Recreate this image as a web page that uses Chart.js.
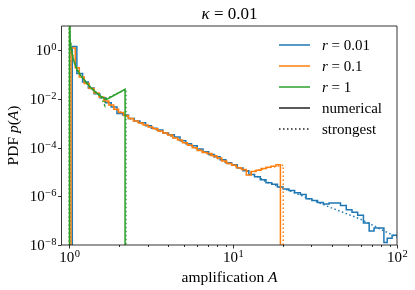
<!DOCTYPE html>
<html>
<head>
<meta charset="utf-8">
<script src="https://cdn.jsdelivr.net/npm/chart.js@4.4.0/dist/chart.umd.min.js"></script>
<style>
  html, body { margin: 0; padding: 0; background: #fff; }
  canvas { display: block; }
</style>
</head>
<body>
<canvas id="chart" width="415" height="290"></canvas>
<script>
// r = 0.01, numerical histogram: bin edges and heights
const blueEdges = [1.04, 1.109, 1.202, 1.303, 1.413, 1.531, 1.66, 1.799, 1.95, 2.113,
  2.291, 2.483, 2.692, 2.917, 3.162, 3.428, 3.715, 4.027, 4.365, 4.732,
  5.129, 5.559, 6.026, 6.531, 7.079, 7.674, 8.318, 9.016, 9.772, 10.59,
  11.48, 12.45, 13.49, 14.62, 15.85, 17.18, 18.62, 20.18, 21.88, 23.71,
  25.7, 27.86, 30.2, 32.73, 35.48, 38.46, 41.69, 45.19, 48.98, 53.09,
  57.54, 62.37, 67.61, 72.44, 83.18, 87.1, 93.33, 100];
const blueVals = [1.45, 0.112, 0.0501, 0.0282, 0.0166, 0.0112, 0.00708, 0.00468, 0.00251, 0.00219,
  0.00158, 0.00126, 0.00105, 7.94e-4, 6.31e-4, 5.37e-4, 3.98e-4, 3.39e-4, 2.75e-4, 1.91e-4,
  1.45e-4, 1.2e-4, 8.91e-5, 6.76e-5, 5.25e-5, 4.27e-5, 3.16e-5, 2.4e-5, 2.0e-5, 1.45e-5,
  1.12e-5, 7.94e-6, 6.31e-6, 4.79e-6, 3.63e-6, 3.16e-6, 2.4e-6, 2.0e-6, 1.74e-6, 1.41e-6,
  1.2e-6, 7.94e-7, 6.76e-7, 5.62e-7, 4.79e-7, 5.37e-7, 5.37e-7, 4.17e-7, 2.82e-7, 2.24e-7,
  1.66e-7, 7.94e-8, 3.8e-8, 5.01e-8, 1.26e-8, 1.91e-8, 2.51e-8];

// r = 0.1, numerical histogram
const orangeEdges = [1.021, 1.084, 1.148, 1.23, 1.318, 1.413, 1.514, 1.622, 1.738, 1.862,
  1.995, 2.138, 2.291, 2.455, 2.63, 2.818, 3.02, 3.236, 3.467, 3.715,
  3.981, 4.266, 4.571, 4.898, 5.248, 5.623, 6.026, 6.457, 6.918, 7.413,
  7.943, 8.511, 9.12, 9.772, 10.47, 11.22, 12.02, 12.88, 13.8, 14.79,
  15.85, 16.98, 18.2, 19.41];
const orangeVals = [1.26, 0.191, 0.0794, 0.0437, 0.0269, 0.0178, 0.012, 0.00832, 0.00562, 0.0038,
  0.00282, 0.00209, 0.00158, 0.00126, 0.00102, 8.51e-4, 7.08e-4, 6.03e-4, 4.79e-4, 3.98e-4,
  3.31e-4, 2.51e-4, 2.09e-4, 1.58e-4, 1.26e-4, 1.0e-4, 7.59e-5, 6.31e-5, 5.75e-5, 4.68e-5,
  3.8e-5, 2.82e-5, 2.24e-5, 1.91e-5, 1.51e-5, 1.26e-5, 7.59e-6, 1.05e-5, 1.17e-5, 1.38e-5,
  1.58e-5, 1.74e-5, 2.0e-5];

// r = 1, numerical (fine bins, drawn as a curve)
const greenNumA = [1.0, 1.0, 1.009, 1.028, 1.059, 1.109, 1.17, 1.259, 1.34, 1.445, 1.549, 1.66, 1.706, 2.185, 2.185];
const greenNumP = [1e-10, 30, 2.57, 1.0, 0.389, 0.166, 0.0933, 0.0501, 0.0302, 0.0191, 0.0132, 0.00977, 0.01, 0.0251, 1e-10];

// strongest-lens approximation
const greenStrA = [1.0, 1.0, 1.009, 1.028, 1.059, 1.109, 1.17, 1.259, 1.34, 1.445, 1.549, 1.641, 1.65, 2.21, 2.21];
const greenStrP = [1e-10, 30, 2.57, 1.0, 0.389, 0.166, 0.0933, 0.0501, 0.0302, 0.0191, 0.0132, 0.0055, 0.0098, 0.0251, 1e-10];

const orangeStrA = [1.0, 1.0, 1.009, 1.028, 1.059, 1.109, 1.17, 1.259, 1.34, 1.549, 1.7, 1.95, 2.344, 3.09, 3.98, 5.5, 7.24, 9.55, 12.6, 15.8, 20.2, 20.2];
const orangeStrP = [1e-10, 30, 2.57, 1.0, 0.389, 0.166, 0.0933, 0.0501, 0.0302, 0.0126, 0.0079, 0.00355, 0.00158, 7.08e-4, 3.55e-4, 1.23e-4, 5.0e-5, 2.09e-5, 1.0e-5, 1.41e-5, 1.91e-5, 1e-10];

const blueStrA = [1.0, 1.0, 1.009, 1.028, 1.059, 1.109, 1.17, 1.259, 1.34, 1.549, 1.7, 1.95, 2.344, 3.09, 3.98, 5.5, 7.24, 9.55, 12.6, 15.85, 19.5, 25.7, 38.9, 59.6, 87, 100];
const blueStrP = [1e-10, 30, 2.57, 1.0, 0.389, 0.166, 0.0933, 0.0501, 0.0302, 0.0126, 0.0079, 0.00355, 0.00158, 7.08e-4, 3.55e-4, 1.23e-4, 5.0e-5, 2.09e-5, 1.0e-5, 4.0e-6, 2.34e-6, 1.12e-6, 3.55e-7, 1.17e-7, 3.31e-8, 2.1e-8];

const xMajor = [1, 10, 100];
const yMajor = [1, 1e-2, 1e-4, 1e-6, 1e-8];
const xLabelExp = ["0", "1", "2"];
const yLabelExp = ["0", "\u22122", "\u22124", "\u22126", "\u22128"];

const legendItems = [
  { name: [["r", true], [" = 0.01", false]], color: "#1f77b4", dash: [] },
  { name: [["r", true], [" = 0.1", false]], color: "#ff7f0e", dash: [] },
  { name: [["r", true], [" = 1", false]], color: "#2ca02c", dash: [] },
  { name: [["numerical", false]], color: "#222", dash: [] },
  { name: [["strongest", false]], color: "#222", dash: [1.5, 2.5] },
];

const SERIF = "'Liberation Serif', 'DejaVu Serif', serif";

let histPoints = (edges, vals, dropAtEnd) => {
  let pts = [{ x: edges[0], y: 1e-10 }];
  vals.forEach((v, i) => pts.push({ x: edges[i], y: v }));
  pts.push({ x: edges[edges.length - 1], y: vals[vals.length - 1] });
  if (dropAtEnd) pts.push({ x: edges[edges.length - 1], y: 1e-10 });
  return pts;
};
let curvePoints = (xs, ys) => xs.map((a, i) => ({ x: a, y: ys[i] }));

// rich text: list of [text, italic]
let richWidth = (ctx, parts, size) => {
  let w = 0;
  parts.forEach(([t, it]) => {
    ctx.font = (it ? "italic " : "") + size + "px " + SERIF;
    w += ctx.measureText(t).width;
  });
  return w;
};
let drawRich = (ctx, parts, x, y, size) => {
  parts.forEach(([t, it]) => {
    ctx.font = (it ? "italic " : "") + size + "px " + SERIF;
    ctx.fillText(t, x, y);
    x += ctx.measureText(t).width;
  });
};
let drawPow = (ctx, exp, x, y, align) => {
  ctx.font = "15px " + SERIF;
  let w1 = ctx.measureText("10").width;
  ctx.font = "10.5px " + SERIF;
  let w2 = ctx.measureText(exp).width;
  let x0 = align === "right" ? x - w1 - w2 : x - (w1 + w2) / 2;
  ctx.font = "15px " + SERIF;
  ctx.fillText("10", x0, y);
  ctx.font = "10.5px " + SERIF;
  ctx.fillText(exp, x0 + w1 + 0.5, y - 5);
};

const axesPlugin = {
  id: "axesPlugin",
  afterDraw(chart) {
    const { ctx, chartArea: a, scales } = chart;
    const xs = scales.x, ys = scales.y;
    ctx.save();
    ctx.fillStyle = "#000";
    ctx.textBaseline = "alphabetic";
    ctx.textAlign = "left";

    // spines
    ctx.strokeStyle = "#000";
    ctx.lineWidth = 0.8;
    ctx.beginPath();
    ctx.moveTo(a.left - 0.5, a.top); ctx.lineTo(a.left - 0.5, a.bottom);
    ctx.moveTo(a.left - 0.5, a.top); ctx.lineTo(a.right, a.top);
    ctx.lineTo(a.right, a.bottom); ctx.lineTo(a.left - 0.5, a.bottom);
    ctx.stroke();

    // x ticks, major and minor
    ctx.beginPath();
    for (let d = 1; d <= 100; d *= 10) {
      for (let m = 1; m <= 9; m++) {
        const v = d * m;
        if (v > 100) break;
        const px = Math.round(xs.getPixelForValue(v)) + 0.5;
        const len = m === 1 ? 3.5 : 2;
        ctx.moveTo(px, a.bottom); ctx.lineTo(px, a.bottom + len);
      }
    }
    yMajor.forEach((v) => {
      const py = Math.round(ys.getPixelForValue(v)) + 0.5;
      ctx.moveTo(a.left - 0.5, py); ctx.lineTo(a.left - 4, py);
    });
    ctx.stroke();

    xMajor.forEach((v, i) => drawPow(ctx, xLabelExp[i], xs.getPixelForValue(v), a.bottom + 17, "center"));
    yMajor.forEach((v, i) => drawPow(ctx, yLabelExp[i], a.left - 6, ys.getPixelForValue(v) + 5, "right"));

    // axis titles
    const xt = [["amplification ", false], ["A", true]];
    drawRich(ctx, xt, (a.left + a.right) / 2 - richWidth(ctx, xt, 15.5) / 2, a.bottom + 37, 15.5);
    const yt = [["PDF ", false], ["p", true], ["(", false], ["A", true], [")", false]];
    ctx.save();
    ctx.translate(18, (a.top + a.bottom) / 2);
    ctx.rotate(-Math.PI / 2);
    drawRich(ctx, yt, -richWidth(ctx, yt, 15.5) / 2, 0, 15.5);
    ctx.restore();

    // title
    const tt = [["\u03ba", true], [" = 0.01", false]];
    drawRich(ctx, tt, (a.left + a.right) / 2 - richWidth(ctx, tt, 17) / 2, 18.5, 17);

    // legend
    legendItems.forEach((it, i) => {
      const cy = a.top + 19 + i * 21;
      ctx.strokeStyle = it.color;
      ctx.lineWidth = 1.5;
      ctx.setLineDash(it.dash);
      ctx.beginPath();
      ctx.moveTo(a.right - 118, cy); ctx.lineTo(a.right - 87, cy);
      ctx.stroke();
      ctx.setLineDash([]);
      drawRich(ctx, it.name, a.right - 75, cy + 5, 15);
    });
    ctx.restore();
  },
};

const lineDefaults = { pointRadius: 0, borderWidth: 1.5, tension: 0, fill: false };

new Chart(document.getElementById("chart"), {
  type: "line",
  data: {
    // first dataset is drawn on top
    datasets: [
      { ...lineDefaults, data: curvePoints(greenStrA, greenStrP), borderColor: "#2ca02c", borderDash: [1.5, 2.5] },
      { ...lineDefaults, data: curvePoints(greenNumA, greenNumP), borderColor: "#2ca02c" },
      { ...lineDefaults, data: curvePoints(orangeStrA, orangeStrP), borderColor: "#ff7f0e", borderDash: [1.5, 2.5] },
      { ...lineDefaults, data: histPoints(orangeEdges, orangeVals, true), borderColor: "#ff7f0e", stepped: true },
      { ...lineDefaults, data: curvePoints(blueStrA, blueStrP), borderColor: "#1f77b4", borderDash: [1.5, 2.5] },
      { ...lineDefaults, data: histPoints(blueEdges, blueVals, false), borderColor: "#1f77b4", stepped: true },
    ],
  },
  options: {
    responsive: false,
    animation: false,
    devicePixelRatio: 1,
    layout: { padding: { top: 26, right: 18, left: 0, bottom: 0 } },
    plugins: { legend: { display: false }, tooltip: { enabled: false }, title: { display: false } },
    scales: {
      x: {
        type: "logarithmic", min: 0.9, max: 100,
        ticks: { display: false }, grid: { display: false }, border: { display: false },
        afterFit: (s) => { s.height = 45; },
      },
      y: {
        type: "logarithmic", min: 1e-8, max: 10,
        ticks: { display: false }, grid: { display: false }, border: { display: false },
        afterFit: (s) => { s.width = 62; },
      },
    },
  },
  plugins: [axesPlugin],
});
</script>
</body>
</html>
